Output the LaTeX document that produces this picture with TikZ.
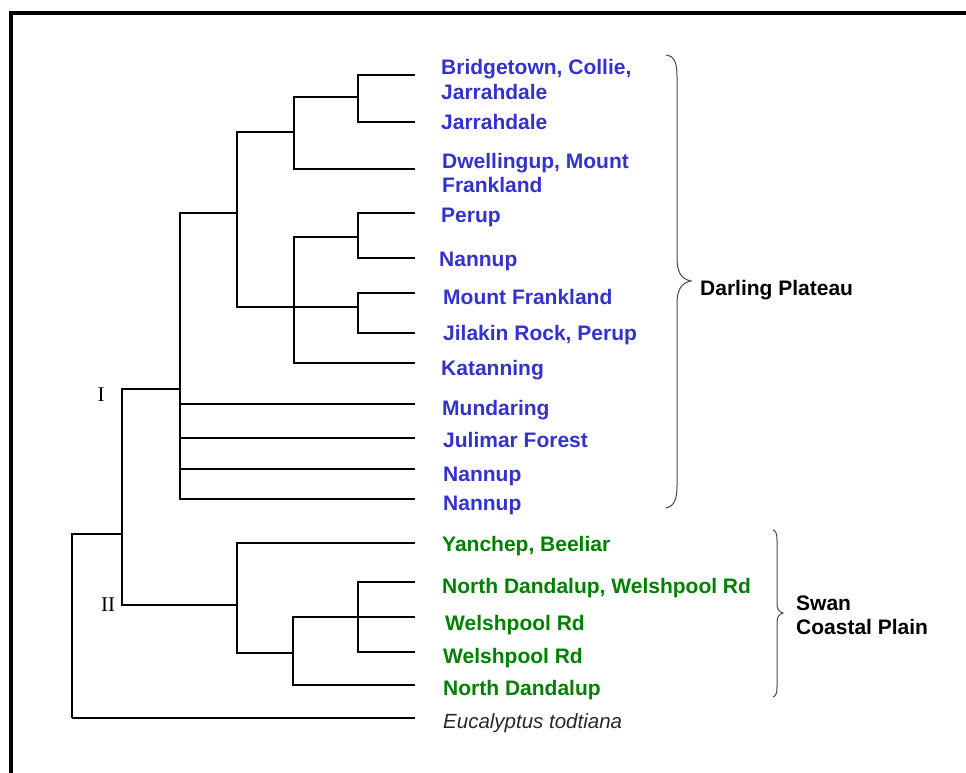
\documentclass[tikz,border=0pt]{standalone}
\usepackage{fontspec}
\setmainfont{Liberation Sans}
\newfontfamily\romanlabel{Liberation Serif}
\definecolor{taxblue}{RGB}{51,51,204}
\definecolor{taxgreen}{RGB}{0,128,0}
\definecolor{bracegray}{RGB}{70,70,70}
\definecolor{outgray}{RGB}{40,40,40}
\begin{document}
\begin{tikzpicture}[x=1pt,y=-1pt,
  branch/.style={line width=2.3pt, line join=miter, black},
  frame/.style={line width=4pt, line join=miter, black},
  bracestyle/.style={line width=1pt, bracegray},
  leafblue/.style={anchor=base west, inner sep=0pt, text=taxblue, align=left, font=\fontsize{21}{25}\selectfont\bfseries},
  leafgreen/.style={anchor=base west, inner sep=0pt, text=taxgreen, align=left, font=\fontsize{21}{25}\selectfont\bfseries},
  outgroup/.style={anchor=base west, inner sep=0pt, text=outgray, font=\fontsize{20.5}{24}\selectfont\itshape},
  region/.style={anchor=base west, inner sep=0pt, text=black, align=left, font=\fontsize{21}{24}\selectfont\bfseries},
  clade/.style={anchor=base, inner sep=0pt, text=black, font=\fontsize{21}{21}\selectfont\romanlabel}
]
\useasboundingbox (0,0) rectangle (966,773);
% frame
\draw[frame] (11,773) -- (11,13) -- (966,13);

% leaf tips
\coordinate (lf1) at (415,75);
\coordinate (lf2) at (415,122);
\coordinate (lf3) at (415,169);
\coordinate (lf4) at (415,213);
\coordinate (lf5) at (415,258);
\coordinate (lf6) at (415,293);
\coordinate (lf7) at (415,333);
\coordinate (lf8) at (415,363);
\coordinate (lf9) at (415,404);
\coordinate (lf10) at (415,438);
\coordinate (lf11) at (415,469);
\coordinate (lf12) at (415,499);
\coordinate (lf13) at (415,543);
\coordinate (lf14) at (415,582);
\coordinate (lf15) at (415,617);
\coordinate (lf16) at (415,652);
\coordinate (lf17) at (415,685);
\coordinate (lf18) at (415,718);

% internal nodes
\coordinate (nA) at (358,97);
\coordinate (nB) at (294,132);
\coordinate (nC) at (358,237);
\coordinate (nD) at (358,307);
\coordinate (nE) at (294,307);
\coordinate (nF) at (237,213);
\coordinate (nG) at (180,389);
\coordinate (nI) at (122,534);
\coordinate (nII) at (237,605);
\coordinate (nH) at (293,653);
\coordinate (nJ) at (358,617);
\coordinate (nR) at (72,718);

% branches
\draw[branch] (nA) |- (lf1);
\draw[branch] (nA) |- (lf2);
\draw[branch] (nB) |- (nA);
\draw[branch] (nB) |- (lf3);
\draw[branch] (nF) |- (nB);
\draw[branch] (nF) |- (nD);
\draw[branch] (nC) |- (lf4);
\draw[branch] (nC) |- (lf5);
\draw[branch] (nE) |- (nC);
\draw[branch] (nE) |- (lf8);
\draw[branch] (nD) |- (lf6);
\draw[branch] (nD) |- (lf7);
\draw[branch] (nG) |- (nF);
\draw[branch] (nG) |- (lf9);
\draw[branch] (nG) |- (lf10);
\draw[branch] (nG) |- (lf11);
\draw[branch] (nG) |- (lf12);
\draw[branch] (nI) |- (nG);
\draw[branch] (nI) |- (nII);
\draw[branch] (nII) |- (lf13);
\draw[branch] (nII) |- (nH);
\draw[branch] (nH) |- (nJ);
\draw[branch] (nJ) -- (lf15);
\draw[branch] (nH) |- (lf17);
\draw[branch] (nJ) |- (lf14);
\draw[branch] (nJ) |- (lf16);
\draw[branch] (nR) |- (nI);
\draw[branch] (nR) -- (lf18);

% clade labels
\node[clade] (labI) at (101,401) {I};
\node[clade] (labII) at (108,611) {II};

% leaf labels (multi-line nodes: base = last line)
\node[leafblue] (t1) at (441,100) {Bridgetown, Collie,\\Jarrahdale};
\node[leafblue] (t2) at (441,129) {Jarrahdale};
\node[leafblue, font=\fontsize{21}{24}\selectfont\bfseries] (t3) at (442,192) {Dwellingup, Mount\\Frankland};
\node[leafblue] (t4) at (441,222) {Perup};
\node[leafblue] (t5) at (439,266) {Nannup};
\node[leafblue] (t6) at (443,304) {Mount Frankland};
\node[leafblue] (t7) at (443,340) {Jilakin Rock, Perup};
\node[leafblue] (t8) at (441,375) {Katanning};
\node[leafblue] (t9) at (442,415) {Mundaring};
\node[leafblue] (t10) at (443,447) {Julimar Forest};
\node[leafblue] (t11) at (443,481) {Nannup};
\node[leafblue] (t12) at (443,510) {Nannup};
\node[leafgreen] (t13) at (442,551) {Yanchep, Beeliar};
\node[leafgreen] (t14) at (442,593) {North Dandalup, Welshpool Rd};
\node[leafgreen] (t15) at (445,630) {Welshpool Rd};
\node[leafgreen] (t16) at (443,663) {Welshpool Rd};
\node[leafgreen] (t17) at (443,695) {North Dandalup};
\node[outgroup] (t18) at (443,728) {Eucalyptus todtiana};

% braces
\draw[bracestyle] (666,55) .. controls (674,56) and (677,62) .. (677,76) -- (677,258)
  .. controls (677,272) and (681,279) .. (691,281)
  .. controls (681,283) and (677,290) .. (677,304) -- (677,486)
  .. controls (677,500) and (674,506) .. (666,508);
\draw[bracestyle] (773,530) .. controls (776,531) and (777,534) .. (777,540) -- (777,604)
  .. controls (777,609) and (779,612) .. (783,613)
  .. controls (779,614) and (777,617) .. (777,622) -- (777,687)
  .. controls (777,693) and (776,696) .. (773,697);

% region labels
\node[region] (darling) at (700,295) {Darling Plateau};
\node[region] (swan) at (796,634) {Swan\\Coastal Plain};
\end{tikzpicture}
\end{document}
